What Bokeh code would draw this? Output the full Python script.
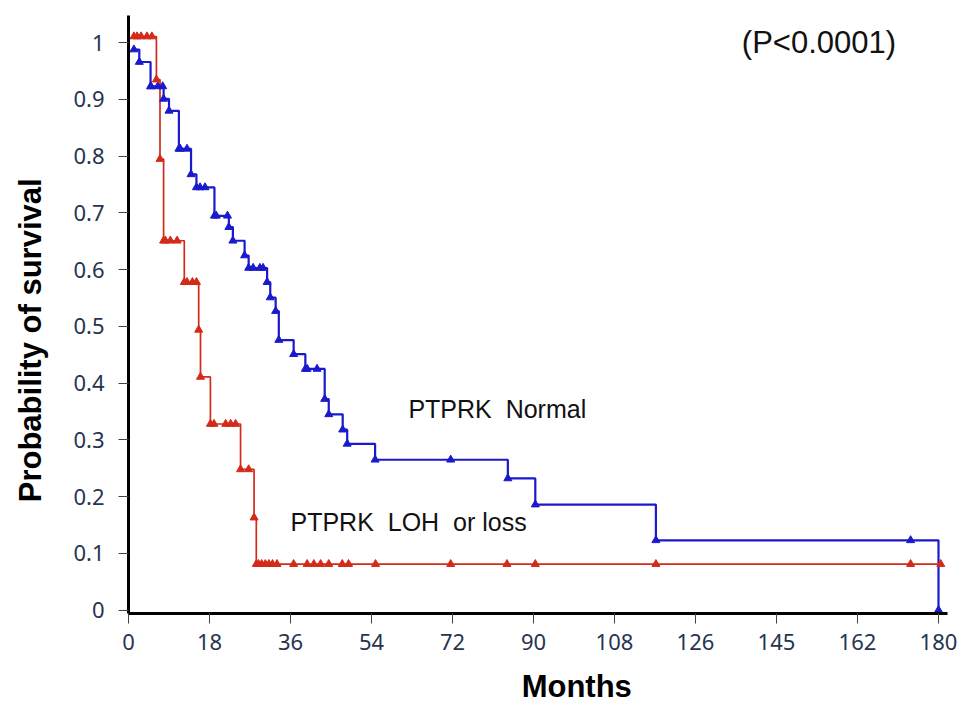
import numpy as np
from bokeh.plotting import figure
from bokeh.models import FixedTicker, Label, Range1d
from bokeh.embed import file_html
from bokeh.resources import INLINE

# ---- data (months, survival probability) ----
normal_t = [1.2, 2.4, 4.9, 7.8, 9.0, 11.2, 13.9, 15.1, 19.1, 22.3, 23.2, 25.8, 26.7,
            30.8, 31.5, 32.7, 33.4, 36.7, 39.3, 43.6, 44.5, 47.6, 48.6, 54.8, 84.3,
            90.4, 117.2, 180.0]
normal_s = [0.988, 0.966, 0.923, 0.901, 0.880, 0.813, 0.768, 0.745, 0.695, 0.675, 0.651,
            0.625, 0.603, 0.578, 0.551, 0.527, 0.476, 0.451, 0.425, 0.372, 0.345, 0.318,
            0.293, 0.265, 0.232, 0.186, 0.123, 0.0]
normal_cens_t = [5.0, 6.5, 7.6, 11.5, 13.0, 15.9, 17.0, 19.5, 22.0, 27.7, 29.2, 29.9,
                 39.7, 41.9, 71.6, 173.8]

loh_t = [1.2, 6.2, 7.0, 7.8, 12.4, 15.6, 16.0, 18.2, 24.9, 27.9, 28.4]
loh_s = [1.011, 0.935, 0.795, 0.651, 0.578, 0.494, 0.411, 0.328, 0.248, 0.163, 0.081]
loh_cens_t = [1.9, 2.8, 4.1, 5.2, 8.2, 9.3, 10.8, 13.0, 14.2, 15.1, 19.0, 21.6, 22.7,
              23.8, 26.7, 28.9, 29.6, 30.4, 31.2, 32.0, 33.0, 36.7, 39.7, 41.2, 42.7,
              44.5, 47.5, 48.9, 54.9, 71.6, 84.1, 90.4, 117.2, 173.8, 180.5]

x_ticks = [0, 18, 36, 54, 72, 90, 108, 126, 144, 162, 180]
x_tick_labels = ["0", "18", "36", "54", "72", "90", "108", "126", "145", "162", "180"]
y_ticks = [0, 0.1, 0.2, 0.3, 0.4, 0.5, 0.6, 0.7, 0.8, 0.9, 1]
y_tick_labels = ["0", "0.1", "0.2", "0.3", "0.4", "0.5", "0.6", "0.7", "0.8", "0.9", "1"]

BLUE = "#1a1acc"
RED = "#d42a1a"
TICK_COLOR = "#26344f"
NB = "\u00a0"


def step_lookup(ts, ss, q):
    idx = np.searchsorted(np.array(ts), np.array(q), side="right") - 1
    return [ss[i] for i in idx]


p = figure(width=966, height=711, output_backend="svg", toolbar_location=None,
           x_range=Range1d(0, 182), y_range=Range1d(-0.006, 1.048),
           min_border_left=128, min_border_right=19, min_border_top=15,
           min_border_bottom=98)
p.outline_line_color = None
p.grid.visible = False
p.background_fill_color = "white"
p.border_fill_color = "white"

# curves
p.step(normal_t, normal_s, mode="after", line_color=BLUE, line_width=2.2)
lx = loh_t + [loh_cens_t[-1]]
ly = loh_s + [loh_s[-1]]
p.step(lx, ly, mode="after", line_color=RED, line_width=1.7)

# markers (events and censored)
p.scatter(normal_t, normal_s, marker="triangle", size=8, color=BLUE)
p.scatter(normal_cens_t, step_lookup(normal_t, normal_s, normal_cens_t),
          marker="triangle", size=8, color=BLUE)
p.scatter(loh_t, loh_s, marker="triangle", size=8, color=RED)
p.scatter(loh_cens_t, step_lookup(loh_t, loh_s, loh_cens_t),
          marker="triangle", size=8, color=RED)

# axes
for ax in (p.xaxis[0], p.yaxis[0]):
    ax.axis_line_color = "black"
    ax.axis_line_width = 3
    ax.major_tick_line_color = "#444444"
    ax.major_tick_line_width = 1
    ax.major_tick_out = 10
    ax.major_tick_in = 0
    ax.minor_tick_line_color = None
    ax.major_label_text_color = TICK_COLOR
    ax.major_label_text_font = "Noto Sans"
    ax.major_label_text_font_size = "22px"
    ax.axis_label_text_font = "Liberation Sans"
    ax.axis_label_text_font_style = "bold"
    ax.axis_label_text_font_size = "31px"
    ax.axis_label_text_color = "black"

p.xaxis.ticker = FixedTicker(ticks=x_ticks)
p.xaxis.major_label_overrides = {t: l for t, l in zip(x_ticks, x_tick_labels)}
p.yaxis.ticker = FixedTicker(ticks=y_ticks)
p.yaxis.major_label_overrides = {t: l for t, l in zip(y_ticks, y_tick_labels)}
p.xaxis.major_label_standoff = 10
p.yaxis.major_label_standoff = 14

# axis titles; no-break spaces shift them off-centre as in the reference
p.xaxis.axis_label = NB * 9 + "Months"
p.xaxis.axis_label_standoff = 16
p.yaxis.axis_label = "Probability of survival" + NB * 6
p.yaxis.axis_label_standoff = 22

# annotations
p.add_layout(Label(x=136.3, y=1.0, text="(P<0.0001)", text_font="Liberation Sans",
                   text_font_size="31px", text_color="#111111", text_baseline="middle"))
p.add_layout(Label(x=62.2, y=0.355, text="PTPRK" + NB + " Normal",
                   text_font="Liberation Sans", text_font_size="25px",
                   text_color="#111111", text_baseline="middle"))
p.add_layout(Label(x=36.0, y=0.155, text="PTPRK" + NB + " LOH" + NB + " or loss",
                   text_font="Liberation Sans", text_font_size="25px",
                   text_color="#111111", text_baseline="middle"))

open("out.html", "w").write(file_html(p, INLINE))
